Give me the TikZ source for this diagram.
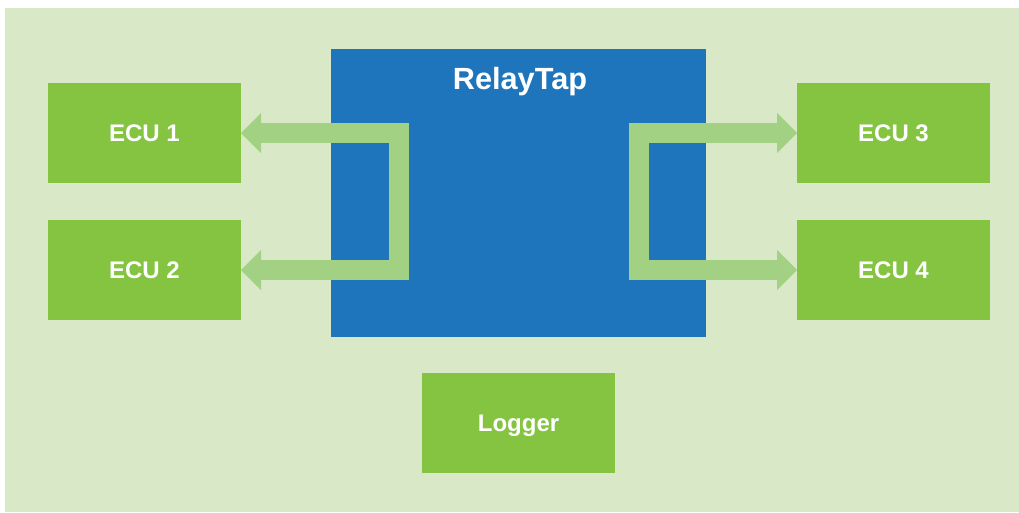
\documentclass[tikz,border=0pt]{standalone}
\usepackage{fontspec}
\setmainfont{Liberation Sans}
\usetikzlibrary{arrows.meta}
\definecolor{bgGreen}{HTML}{D9E8C6}
\definecolor{ecuGreen}{HTML}{84C441}
\definecolor{tapBlue}{HTML}{1F75BB}
\definecolor{busGreen}{HTML}{A2D183}
\begin{document}
\begin{tikzpicture}[x=0.75pt, y=-0.75pt,
ecu/.style={rectangle, fill=ecuGreen, text=white, font=\bfseries\fontsize{18}{21}\selectfont, text height=13.1pt, text depth=0pt, minimum width=144.75pt, minimum height=75pt, inner sep=0pt, outer sep=0pt},
bus/.style={draw=busGreen, line width=15pt, line join=miter, {Triangle[length=15pt, width=30pt, line width=0pt]}-{Triangle[length=15pt, width=30pt, line width=0pt]}}]
\tikzstyle{tap}=[rectangle, fill=tapBlue, minimum width=281.25pt, minimum height=216pt, inner sep=0pt, outer sep=0pt]
\def\ya{133}
\def\yb{270}
% Background
\useasboundingbox (0,0) rectangle (1019,512);
\fill[bgGreen] (5,8) rectangle (1019,512);
% RelayTap
\node[tap] (tap) at (518.5,193) {};
\node[text=white, font=\bfseries\fontsize{23}{27}\selectfont, text height=16.8pt, text depth=0pt, inner sep=0pt] (tapname) at (520,78) {RelayTap};
% ECUs
\node[ecu] (ecu1) at (144.5,\ya) {ECU 1};
\node[ecu] (ecu2) at (144.5,\yb) {ECU 2};
\node[ecu] (ecu3) at (893.5,\ya) {ECU 3};
\node[ecu] (ecu4) at (893.5,\yb) {ECU 4};
\node[ecu] (logger) at (518.5,423) {Logger};
% Buses
\coordinate (lbend) at (399,\ya);
\coordinate (rbend) at (639,\ya);
\draw[bus] (ecu1.east) -- (lbend) |- (ecu2.east);
\draw[bus] (ecu3.west) -- (rbend) |- (ecu4.west);
\end{tikzpicture}
\end{document}
